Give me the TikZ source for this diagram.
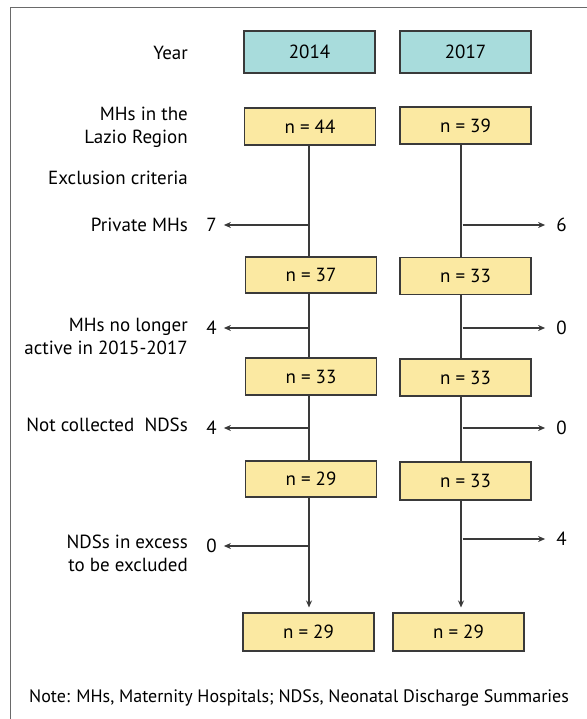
\documentclass[tikz,border=0pt]{standalone}
\usepackage{fontspec}
\setmainfont{PT Sans}
\usetikzlibrary{arrows.meta}
\definecolor{teal}{HTML}{A8DCDC}
\definecolor{yel}{HTML}{FBE9A2}
\definecolor{edge}{HTML}{3A3A3A}
\definecolor{frame}{HTML}{6A6A6A}
\tikzset{
  base/.style={font=\fontsize{19}{23}\selectfont, text=black},
  box/.style={base, draw=edge, line width=1.1pt, minimum width=131pt, inner sep=0pt},
  yearbox/.style={box, fill=teal, minimum height=42pt},
  nbox/.style={box, fill=yel, minimum height=37pt},
  lab/.style={base, anchor=east, align=right, inner sep=0pt},
  num/.style={base, inner sep=0pt},
  flow/.style={draw=edge, line width=1.1pt},
  arr/.style={flow, -{Stealth[length=7pt,width=6pt]}},
}
\begin{document}
\begin{tikzpicture}[x=1pt,y=-1pt]
\useasboundingbox (0,0) rectangle (586,719);
\draw[frame, line width=1.5pt] (10.5,7.5) rectangle (600,740);
% year boxes
\node[yearbox] (y1) at (309.5,52) {2014};
\node[yearbox] (y2) at (465.5,52) {2017};
% left column
\node[nbox] (a1) at (310,126.5) {n = 44};
\node[nbox, minimum height=36pt] (a2) at (311,275) {n = 37};
\node[nbox] (a3) at (311,376.5) {n = 33};
\node[nbox, minimum height=36pt] (a4) at (311,479) {n = 29};
\node[nbox, minimum height=38pt] (a5) at (308.5,632) {n = 29};
% right column
\node[nbox] (b1) at (465.5,125.5) {n = 39};
\node[nbox] (b2) at (465.5,276) {n = 33};
\node[nbox] (b3) at (465.5,377.5) {n = 33};
\node[nbox, minimum height=38pt] (b4) at (465.5,481) {n = 33};
\node[nbox, minimum height=38pt] (b5) at (458.5,632) {n = 29};
% line x positions
\coordinate (L) at (309,0);
\coordinate (R) at (461,0);
% labels
\node[lab] (tYear) at (188,53) {Year};
\node[lab] (tMH) at (188,127) {MHs in the\\Lazio Region};
\node[lab] (tExc) at (188,178) {Exclusion criteria};
\node[lab] (tPriv) at (188,225) {Private MHs};
\node[lab] (tLong) at (188,336.5) {MHs no longer\\active in 2015-2017};
\node[lab] (tNot) at (188,425) {Not collected\ \ NDSs};
\node[lab] (tExc2) at (188,553.5) {NDSs in excess\\to be excluded};
% numbers
\node[num] (l1) at (211.5,225) {7};
\node[num] (l2) at (211.5,328) {4};
\node[num] (l3) at (211.5,428) {4};
\node[num] (l4) at (211.5,546) {0};
\node[num] (r1) at (561.5,225) {6};
\node[num] (r2) at (561.5,328) {0};
\node[num] (r3) at (561.5,428) {0};
\node[num] (r4) at (561.5,539) {4};
% vertical lines
\draw[flow] (a1.south -| L) -- (a2.north -| L);
\draw[flow] (a2.south -| L) -- (a3.north -| L);
\draw[flow] (a3.south -| L) -- (a4.north -| L);
\draw[arr, shorten >=5pt] (a4.south -| L) -- (a5.north -| L);
\draw[flow] (b1.south -| R) -- (b2.north -| R);
\draw[flow] (b2.south -| R) -- (b3.north -| R);
\draw[flow] (b3.south -| R) -- (b4.north -| R);
\draw[arr, shorten >=5pt] (b4.south -| R) -- (b5.north -| R);
% branch arrows
\draw[arr, shorten >=7pt] (l1 -| L) -- (l1.east);
\draw[arr, shorten >=7pt] (l2 -| L) -- (l2.east);
\draw[arr, shorten >=7pt] (l3 -| L) -- (l3.east);
\draw[arr, shorten >=7pt] (l4 -| L) -- (l4.east);
\draw[arr, shorten <=1.5pt, shorten >=11pt] (r1 -| R) -- (r1.west);
\draw[arr, shorten <=1.5pt, shorten >=11pt] (r2 -| R) -- (r2.west);
\draw[arr, shorten <=1.5pt, shorten >=11pt] (r3 -| R) -- (r3.west);
\draw[arr, shorten <=1.5pt, shorten >=11pt] (r4 -| R) -- (r4.west);
% note
\node[base, font=\fontsize{18}{22}\selectfont, anchor=west, inner sep=0pt] (note) at (29,698) {Note: MHs, Maternity Hospitals; NDSs, Neonatal Discharge Summaries};
\end{tikzpicture}
\end{document}
